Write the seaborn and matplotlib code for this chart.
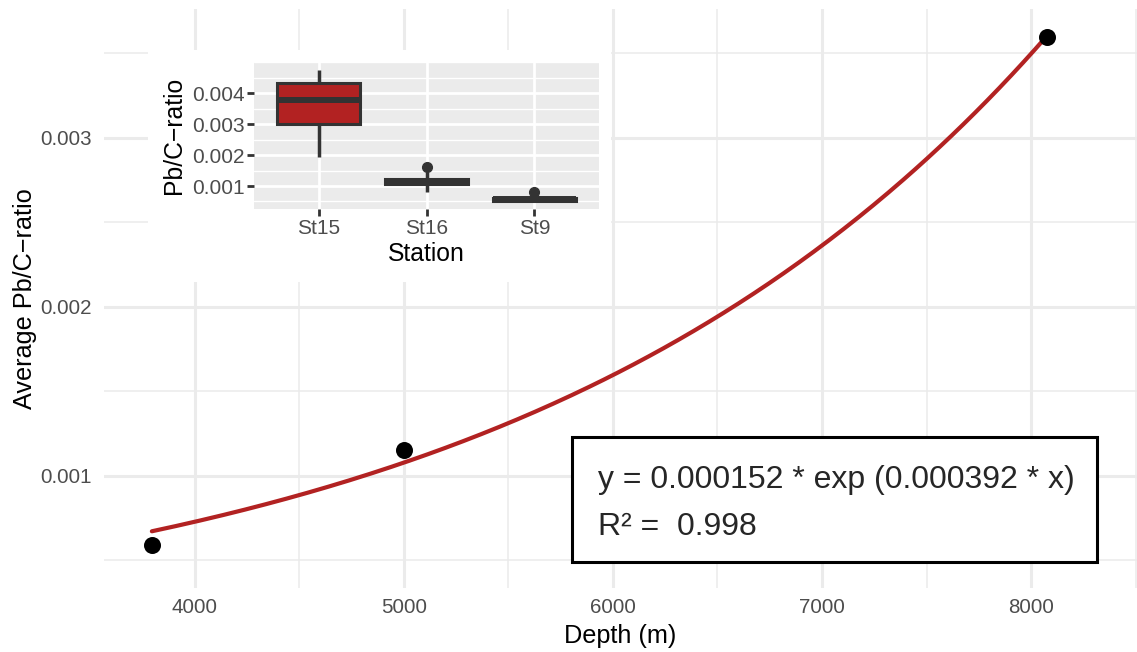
import numpy as np
import pandas as pd
import matplotlib
matplotlib.use("Agg")
import matplotlib.pyplot as plt
from matplotlib.ticker import MultipleLocator, FixedLocator
from matplotlib.patches import Rectangle
import seaborn as sns

# ---- data ----
depth = [3794, 5000, 8077]
avg_ratio = [0.000592, 0.001154, 0.003598]
fit_a = 0.000152
fit_b = 0.000392
eq_text = "y = 0.000152 * exp (0.000392 * x)"
r2_text = "R\u00b2 =  0.998"

stations = ["St15", "St16", "St9"]
st15_vals = [0.00195, 0.00302, 0.00378, 0.00432, 0.00476]
st16_vals = [0.00080, 0.00100, 0.00105, 0.00110, 0.00114, 0.00118, 0.00122, 0.00146, 0.00162]
st9_vals = [0.00047, 0.00048, 0.00050, 0.00054, 0.00057, 0.00060, 0.00062, 0.00065, 0.00082]
inset_yticks = [0.001, 0.002, 0.003, 0.004]

sns.set_theme(style="white")
plt.rcParams['font.family'] = ['Liberation Sans', 'DejaVu Sans']

W, H = 1137, 652
fig = plt.figure(figsize=(W / 100, H / 100), dpi=100)

def fx(px):
    return px / W

def fy(py):
    return 1 - py / H

# ---- main axes ----
ax = fig.add_axes([fx(104), fy(588), fx(1137) - fx(104), fy(9) - fy(588)])
ax.set_facecolor("white")
for s in ax.spines.values():
    s.set_visible(False)

xs = np.linspace(min(depth), max(depth), 300)
curve = pd.DataFrame({"x": xs, "y": fit_a * np.exp(fit_b * xs)})
sns.lineplot(data=curve, x="x", y="y", ax=ax, color="#B22222", linewidth=3.0, zorder=3)
pts = pd.DataFrame({"depth": depth, "ratio": avg_ratio})
sns.scatterplot(data=pts, x="depth", y="ratio", ax=ax, color="black", s=150,
                edgecolor="black", linewidth=0, zorder=4)

ax.set_xlim(3565, 8507)
ax.set_ylim(0.000337, 0.003763)
ax.xaxis.set_major_locator(MultipleLocator(1000))
ax.xaxis.set_minor_locator(MultipleLocator(500))
ax.yaxis.set_major_locator(MultipleLocator(0.001))
ax.yaxis.set_minor_locator(MultipleLocator(0.0005))
ax.yaxis.set_major_formatter(matplotlib.ticker.FuncFormatter(lambda v, p: f"{v:.3f}"))
ax.grid(which="major", color="#EBEBEB", linewidth=2.2, zorder=0)
ax.grid(which="minor", color="#EBEBEB", linewidth=1.1, zorder=0)
ax.set_axisbelow(True)
ax.tick_params(which="both", length=0, labelsize=14.8, labelcolor="#4D4D4D")
ax.tick_params(axis="y", pad=8.5)
ax.tick_params(axis="x", pad=7)
ax.set_xlabel("Depth (m)", fontsize=18.2, color="black", labelpad=5)
ax.set_ylabel("Average Pb/C\u2212ratio", fontsize=18.2, color="black", labelpad=3)

# equation box
fig.patches.append(Rectangle((fx(572), fy(562)), fx(1097) - fx(572), fy(437) - fy(562),
                             transform=fig.transFigure, facecolor="white",
                             edgecolor="black", linewidth=2.2, zorder=5))
fig.text(fx(598), fy(480), eq_text, fontsize=23, va="center", ha="left", zorder=6)
fig.text(fx(598), fy(527), r2_text, fontsize=23, va="center", ha="left", zorder=6)

# ---- inset ----
fig.patches.append(Rectangle((fx(148), fy(282)), fx(611) - fx(148), fy(50) - fy(282),
                             transform=fig.transFigure, facecolor="white",
                             edgecolor="none", zorder=2))
iax = fig.add_axes([fx(254), fy(209), fx(599) - fx(254), fy(62) - fy(209)], zorder=3)
box_df = pd.DataFrame({
    "Station": ["St15"] * len(st15_vals) + ["St16"] * len(st16_vals) + ["St9"] * len(st9_vals),
    "ratio": st15_vals + st16_vals + st9_vals,
})
sns.boxplot(data=box_df, x="Station", y="ratio", order=stations, ax=iax,
            color="#B22222", saturation=1, linecolor="#333333", linewidth=2.2,
            width=0.77, showcaps=False, fliersize=7,
            flierprops=dict(marker="o", markerfacecolor="#333333", markeredgecolor="#333333"),
            medianprops=dict(linewidth=4.3, color="#333333"),
            whiskerprops=dict(linewidth=2.5, color="#333333"), zorder=3)
iax.set_facecolor("#EBEBEB")
for s in iax.spines.values():
    s.set_visible(False)
iax.set_xlim(-0.6, 2.6)
iax.set_ylim(0.000256, 0.005013)
iax.yaxis.set_major_locator(FixedLocator(inset_yticks))
iax.yaxis.set_minor_locator(MultipleLocator(0.0005))
iax.yaxis.set_major_formatter(matplotlib.ticker.FuncFormatter(lambda v, p: f"{v:.3f}"))
iax.grid(which="major", color="white", linewidth=2.0, zorder=0)
iax.grid(which="minor", axis="y", color="white", linewidth=1.0, zorder=0)
iax.set_axisbelow(True)
iax.tick_params(which="major", length=5, width=2.0, color="#333333",
                labelsize=15, labelcolor="#4D4D4D", pad=2, left=True, bottom=True)
iax.tick_params(which="minor", length=0)
iax.set_xlabel("Station", fontsize=17.8, color="black", labelpad=3)
iax.set_ylabel("Pb/C\u2212ratio", fontsize=17.8, color="black", labelpad=4)

fig.savefig("out.png", dpi=100, facecolor="white")
